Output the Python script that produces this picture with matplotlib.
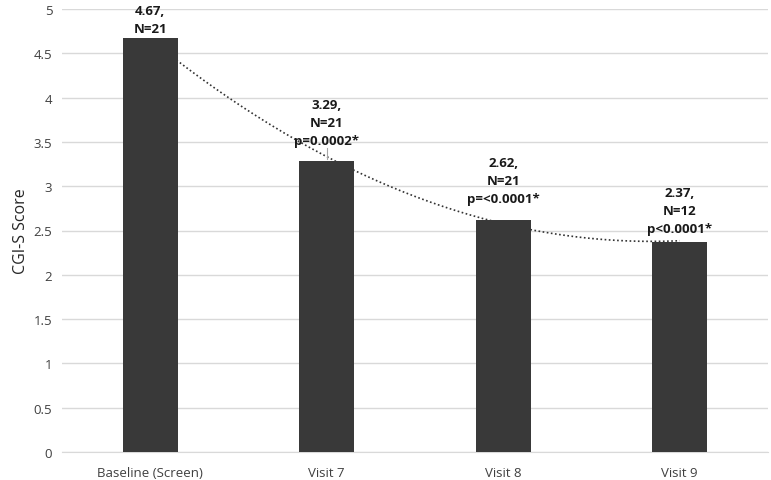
import numpy as np
import matplotlib.pyplot as plt

categories = ['Baseline (Screen)', 'Visit 7', 'Visit 8', 'Visit 9']
scores = [4.67, 3.29, 2.62, 2.37]
n_values = [21, 21, 21, 12]
p_labels = ['', 'p=0.0002*', 'p=<0.0001*', 'p<0.0001*']

plt.rcParams['font.family'] = ['Open Sans', 'DejaVu Sans']

fig = plt.figure(figsize=(7.71, 4.81), dpi=100)
ax = fig.add_axes([62 / 771, 1 - 453 / 481, 706 / 771, 443 / 481])

x = np.arange(len(categories))
ax.bar(x, scores, width=0.31, color='#393939', zorder=3)

# polynomial (order 2) trendline, behind the bars like in Excel
coef = np.polyfit(x, scores, 2)
xs = np.linspace(x[0], x[-1], 200)
ax.plot(xs, np.polyval(coef, xs), color='#333333', lw=1.2, ls=(0, (1, 1.5)), zorder=2)

# data labels
offsets = [2, 10, 11, 5]  # points above bar top
for i, (v, n, p) in enumerate(zip(scores, n_values, p_labels)):
    txt = f'{v:.2f},\nN={n}' + (f'\n{p}' if p else '')
    ax.annotate(txt, (x[i], v), xytext=(0, offsets[i]), textcoords='offset points',
                ha='center', va='bottom', fontsize=9.5, fontweight='bold',
                linespacing=1.5, color='#1a1a1a', zorder=4)
# leader line for Visit 7 label
ax.plot([x[1], x[1]], [3.29 + 0.02, 3.29 + 0.14], color='#a6a6a6', lw=0.8, zorder=4)

ax.set_xlim(-0.5, len(categories) - 0.5)
ax.set_ylim(0, 5)
ax.set_yticks(np.arange(0, 5.01, 0.5))
ax.set_yticklabels(['0', '0.5', '1', '1.5', '2', '2.5', '3', '3.5', '4', '4.5', '5'])
ax.set_xticks(x)
ax.set_xticklabels(categories)
ax.grid(axis='y', color='#d9d9d9', lw=1, zorder=0)
ax.set_axisbelow(True)
for s in ['top', 'right', 'left']:
    ax.spines[s].set_visible(False)
ax.spines['bottom'].set_color('#d9d9d9')
ax.tick_params(axis='both', length=0, labelsize=9.5, colors='#404040')
ax.tick_params(axis='y', pad=7)
ax.tick_params(axis='x', pad=10)
ax.set_ylabel('CGI-S Score', fontsize=11.5, color='#262626', labelpad=3)

fig.savefig('out.png', dpi=100)
